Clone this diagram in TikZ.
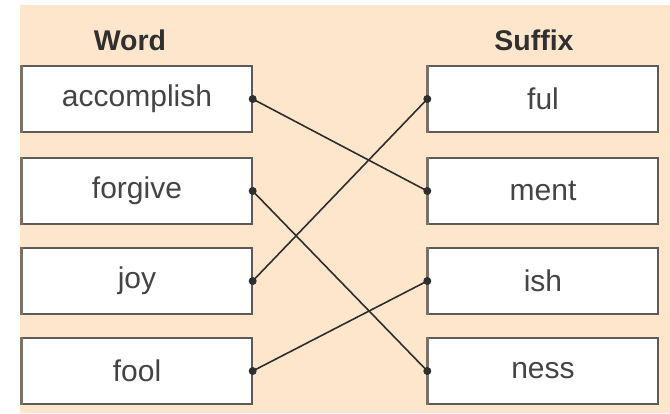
\documentclass[tikz,border=0pt]{standalone}
\usepackage{fontspec}
\setmainfont{Liberation Sans}
\definecolor{bg}{HTML}{FDE6CC}
\definecolor{boxc}{HTML}{5E5A55}
\definecolor{edgec}{HTML}{7A7268}
\definecolor{txt}{HTML}{444444}
\definecolor{linec}{HTML}{2E2E2E}
\begin{document}
\begin{tikzpicture}[x=1pt,y=-1pt,
  box/.style={draw=boxc, line width=1.4pt, fill=white, minimum width=230pt, minimum height=66pt, inner sep=0pt, font=\fontsize{30}{32}\selectfont, text=txt},
  head/.style={font=\bfseries\fontsize{28.5}{30}\selectfont, text=txt!70!black},
  conn/.style={draw=linec, line width=1.6pt},
  dot/.style={fill=linec}]
\useasboundingbox (0,0) rectangle (670,413);
\fill[bg] (20,5) rectangle (670,413);
\node[head] (hw) at (130,40) {Word};
\node[head] (hs) at (534,40) {Suffix};
\node[box] (w1) at (137,99) {accomplish};
\node[box] (w2) at (137,191) {forgive};
\node[box] (w3) at (137,281) {joy};
\node[box] (w4) at (137,371) {fool};
\node[box] (s1) at (543,99) {ful};
\node[box] (s2) at (543,191) {ment};
\node[box] (s3) at (543,281) {ish};
\node[box] (s4) at (543,371) {ness};
\foreach \n in {w1,w2,w3,w4,s1,s2,s3,s4}{
  \draw[edgec, line width=3pt] (\n.north west) -- (\n.south west);
}
\draw[conn] (w1.east) -- (s2.west);
\draw[conn] (w2.east) -- (s4.west);
\draw[conn] (w3.east) -- (s1.west);
\draw[conn] (w4.east) -- (s3.west);
\foreach \n in {w1,w2,w3,w4}{ \fill[dot] (\n.east) circle (4pt); }
\foreach \n in {s1,s2,s3,s4}{ \fill[dot] (\n.west) circle (4pt); }
\end{tikzpicture}
\end{document}
